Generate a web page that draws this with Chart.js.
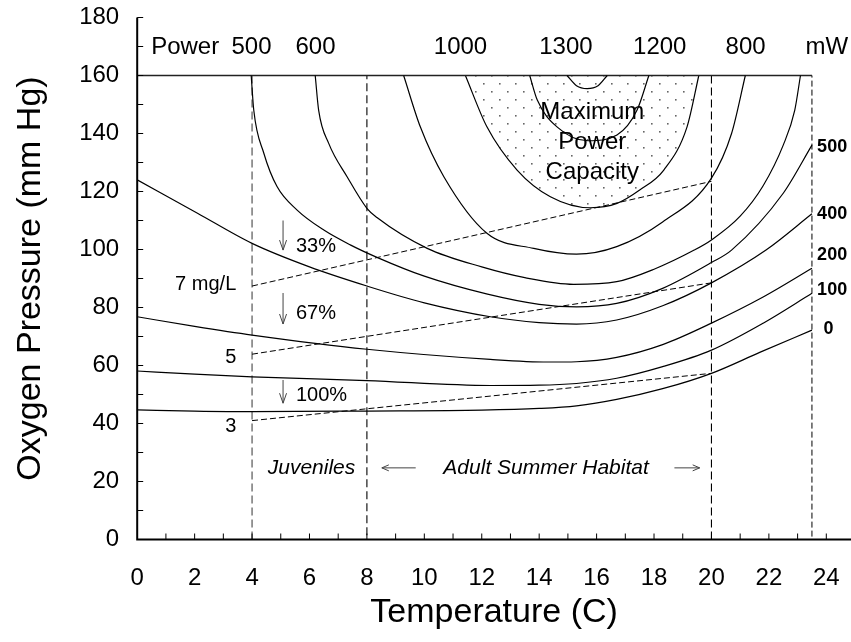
<!DOCTYPE html>
<html>
<head>
<meta charset="utf-8">
<script src="https://cdn.jsdelivr.net/npm/chart.js@4.4.1/dist/chart.umd.min.js"></script>
<style>
  html, body { margin: 0; padding: 0; background: #fff; }
  #wrap { width: 851px; height: 642px; }
</style>
</head>
<body>
<div id="wrap"><canvas id="c" width="851" height="642"></canvas></div>
<script>
// Swimming power contours (mW) against water temperature (C) and oxygen pressure (mm Hg).
// Each contour is a list of [temperature, oxygen pressure] points.
const power0    = [[0,44.7],[2,44.3],[4,44.1],[8,44.3],[12,44.6],[14,45.2],[15.3,46.1],[16.7,48.3],[18.3,52.0],[20,57.3],[21.7,64.6],[23.5,72.2]];
const power100  = [[0,58.1],[2,57.0],[4,56.1],[8,54.8],[12.3,53.1],[14,53.2],[15.3,53.8],[16.7,55.6],[18.3,59.6],[20,65.3],[21.8,74.6],[23.5,84.9]];
const power200  = [[0,76.8],[2,73.5],[4,70.5],[8,65.6],[12.3,62.1],[14.3,61.2],[15.3,61.3],[16.7,62.8],[18.3,67.2],[20,74.6],[21.8,83.6],[23.5,93.5]];
const power400  = [[0,124],[2.1,112.5],[4,102.1],[6,94.0],[8,87.4],[10,81.6],[12.3,76.8],[14,74.8],[15.3,74.3],[16.7,75.7],[18.3,80.6],[20,88.5],[21.9,99.8],[23.5,112.3]];
const power500  = [[3.97,160],[4.06,148],[4.41,133.2],[4.87,121.7],[5.57,113.6],[6.5,106.7],[7.42,101.6],[8.35,97.3],[10,90.8],[12.2,84.6],[14,81.1],[15.3,80.2],[16.7,81.4],[18.3,86.6],[20,95.5],[20.7,99.8],[22.5,119.4],[23.5,136]];
const power600  = [[6.2,160],[6.32,148],[6.67,136.6],[7.31,125.1],[8.0,114.2],[8.35,111.0],[10.1,100.4],[12,94.0],[13.5,90.3],[15.2,88.0],[16.7,88.9],[18,93.2],[19.4,99.8],[20,103.3],[21,111.5],[21.8,122],[22.5,136],[22.9,148],[23.1,160]];
const power800  = [[9.28,160],[9.86,142.3],[10.68,125.1],[12.18,105.6],[13.81,100.4],[15.3,98.4],[16.7,101.0],[18.3,109.5],[20,124.6],[20.7,140],[21.18,160]];
const power1000 = [[11.43,160],[12.18,142.3],[13.23,127.4],[14.39,118.2],[15.78,114.4],[16.71,115.9],[17.5,120.5],[18.34,127.4],[19.15,142.3],[19.56,160]];
const power1200 = [[13.67,160],[13.93,151.6],[14.62,142.3],[15.7,137.5],[16.71,139.5],[17.41,148.1],[17.82,160]];
const power1300 = [[14.97,160],[15.3,156.5],[15.67,155.5],[16.05,156.5],[16.37,160]];

// Dissolved oxygen isopleths (mg/L)
const do7 = [[4,87.4],[20,123.5]];
const do5 = [[4,63.9],[20,88.5]];
const do3 = [[4,41.0],[20,57.3]];

// Habitat boundaries (temperature) and the upper pressure limit
const habitatTemps = [4, 8, 20, 23.5];
const pressureCap = 160;

// Axis ticks
const xTickLabels = [0,2,4,6,8,10,12,14,16,18,20,22,24];
const yTickLabels = [0,20,40,60,80,100,120,140,160,180];

// Annotation texts
const powerHeader = ['Power','500','600','1000','1300','1200','800','mW'];
const rightLabels = ['500','400','200','100','0'];
const doLabels = ['7 mg/L','5','3'];
const dropLabels = ['33%','67%','100%'];
const capacityLines = ['Maximum','Power','Capacity'];

const FONT = 'Arial, "Liberation Sans", Helvetica, sans-serif';
const X_MAX = 24.86;

const ctx = document.getElementById('c').getContext('2d');

// Dot stipple used to shade the maximum power capacity zone
const tile = document.createElement('canvas');
tile.width = 16; tile.height = 16;
const tg = tile.getContext('2d');
tg.fillStyle = '#666';
tg.fillRect(3, 3, 1.6, 1.6);
tg.fillRect(11, 11, 1.6, 1.6);
const stipple = ctx.createPattern(tile, 'repeat');

const xy = pts => pts.map(([x, y]) => ({ x, y }));

function contour(pts, extra) {
  return Object.assign({
    data: xy(pts), showLine: true, borderColor: '#000', borderWidth: 1.2,
    pointRadius: 0, pointHoverRadius: 0, cubicInterpolationMode: 'monotone', fill: false
  }, extra || {});
}
function straight(pts, dash, width, color) {
  return {
    data: xy(pts), showLine: true, borderColor: color || '#000', borderWidth: width || 1,
    borderDash: dash || [], pointRadius: 0, pointHoverRadius: 0, tension: 0, fill: false
  };
}

const datasets = [
  contour(power0), contour(power100), contour(power200), contour(power400),
  contour(power500), contour(power600), contour(power800),
  contour(power1200), contour(power1300),
  straight(do7, [6, 3]), straight(do5, [6, 3]), straight(do3, [6, 3]),
  straight([[0, pressureCap], [habitatTemps[3], pressureCap]], [], 1.6, '#222'),
  straight([[habitatTemps[0], 0], [habitatTemps[0], pressureCap]], [8, 4], 1.1, '#444'),
  straight([[habitatTemps[1], 1.5], [habitatTemps[1], pressureCap]], [8, 4], 1.1),
  straight([[habitatTemps[2], 0], [habitatTemps[2], pressureCap]], [8, 4], 1.1),
  straight([[habitatTemps[3], 1], [habitatTemps[3], pressureCap]], [6, 3], 1),
  contour(power1000, { fill: { value: pressureCap }, backgroundColor: stipple })
];

function arrow(c, x1, y1, x2, y2, head, half) {
  const a = Math.atan2(y2 - y1, x2 - x1);
  c.beginPath();
  c.moveTo(x1, y1); c.lineTo(x2, y2);
  c.moveTo(x2 - head * Math.cos(a) + half * Math.sin(a), y2 - head * Math.sin(a) - half * Math.cos(a));
  c.lineTo(x2, y2);
  c.lineTo(x2 - head * Math.cos(a) - half * Math.sin(a), y2 - head * Math.sin(a) + half * Math.cos(a));
  c.stroke();
}

const decor = {
  id: 'decor',
  afterDatasetsDraw(chart) {
    const c = chart.ctx, xs = chart.scales.x, ys = chart.scales.y;
    const X = v => xs.getPixelForValue(v), Y = v => ys.getPixelForValue(v);
    c.save();
    c.fillStyle = '#000';
    c.textBaseline = 'middle';

    // Power header along the top
    c.font = '24px ' + FONT;
    c.textAlign = 'center';
    const headerT = [1.67, 3.98, 6.21, 11.26, 14.93, 18.2, 21.19, 24.02];
    powerHeader.forEach((t, i) => c.fillText(t, X(headerT[i]), Y(169.6)));

    // Capacity zone caption
    c.font = '24px ' + FONT;
    const capP = [147.2, 136.9, 126.6];
    capacityLines.forEach((t, i) => c.fillText(t, X(15.85), Y(capP[i])));

    // Contour values at the right edge
    c.font = 'bold 18px ' + FONT;
    c.textAlign = 'left';
    const rightP = [135.3, 112.4, 98.1, 86.0, 72.6];
    rightLabels.forEach((t, i) => c.fillText(t, X(t === '0' ? 23.9 : 23.68), Y(rightP[i])));

    // Dissolved oxygen labels
    c.font = '20px ' + FONT;
    c.textAlign = 'right';
    const doP = [87.8, 62.9, 39.0];
    doLabels.forEach((t, i) => c.fillText(t, X(3.45), Y(doP[i])));

    // Power reductions with down arrows
    c.textAlign = 'left';
    const dropP = [101.0, 77.8, 49.5];
    dropLabels.forEach((t, i) => c.fillText(t, X(5.53), Y(dropP[i])));
    c.strokeStyle = '#444';
    c.lineWidth = 1;
    const dropArrows = [[110, 99.8], [85, 74.3], [55, 47]];
    dropArrows.forEach(([a, b]) => arrow(c, X(5.08), Y(a), X(5.08), Y(b), 10, 3.5));

    // Habitat captions
    c.font = 'italic 21px ' + FONT;
    c.textAlign = 'center';
    c.fillText('Juveniles', X(6.07), Y(24.7));
    c.fillText('Adult Summer Habitat', X(14.24), Y(24.7));
    arrow(c, X(9.70), Y(24.7), X(8.52), Y(24.7), 7, 3);
    arrow(c, X(18.71), Y(24.7), X(19.59), Y(24.7), 7, 3);
    c.restore();
  },
  afterDraw(chart) {
    const c = chart.ctx, xs = chart.scales.x, ys = chart.scales.y;
    const X = v => xs.getPixelForValue(v), Y = v => ys.getPixelForValue(v);
    c.save();
    c.strokeStyle = '#000';
    c.lineWidth = 1;
    c.beginPath();
    for (let t = 1; t <= 24; t++) { c.moveTo(X(t), Y(0)); c.lineTo(X(t), Y(0) - 6); }
    for (let p = 10; p <= 180; p += 10) { c.moveTo(X(0), Y(p)); c.lineTo(X(0) + 6, Y(p)); }
    c.stroke();
    c.lineWidth = 2;
    c.beginPath();
    c.moveTo(X(0), Y(180)); c.lineTo(X(0), Y(0)); c.lineTo(chart.chartArea.right, Y(0));
    c.stroke();
    c.restore();
  }
};

new Chart(ctx, {
  type: 'scatter',
  data: { datasets },
  plugins: [decor],
  options: {
    responsive: false,
    animation: false,
    events: [],
    layout: { padding: { top: 17.5, left: 0, right: 0, bottom: 0 } },
    plugins: { legend: { display: false }, tooltip: { enabled: false } },
    scales: {
      x: {
        type: 'linear', min: 0, max: X_MAX,
        grid: { display: false, drawTicks: false },
        border: { display: false },
        afterBuildTicks: s => { s.ticks = xTickLabels.map(v => ({ value: v })); },
        afterFit: s => { s.height = 102.5; s.paddingLeft = 0; s.paddingRight = 0; },
        ticks: { autoSkip: false, maxRotation: 0, padding: 24, color: '#000', font: { family: FONT, size: 24 } },
        title: { display: true, text: 'Temperature (C)', color: '#000', font: { family: FONT, size: 34 }, padding: { top: 0, bottom: 9 } }
      },
      y: {
        type: 'linear', min: 0, max: 180,
        grid: { display: false, drawTicks: false },
        border: { display: false },
        afterBuildTicks: s => { s.ticks = yTickLabels.map(v => ({ value: v })); },
        afterFit: s => { s.width = 137.2; s.paddingTop = 0; s.paddingBottom = 0; },
        ticks: { autoSkip: false, padding: 18, color: '#000', font: { family: FONT, size: 24 } },
        title: { display: true, text: 'Oxygen Pressure (mm Hg)', color: '#000', font: { family: FONT, size: 34 }, padding: { top: 10, bottom: 0 } }
      }
    }
  }
});
</script>
</body>
</html>
